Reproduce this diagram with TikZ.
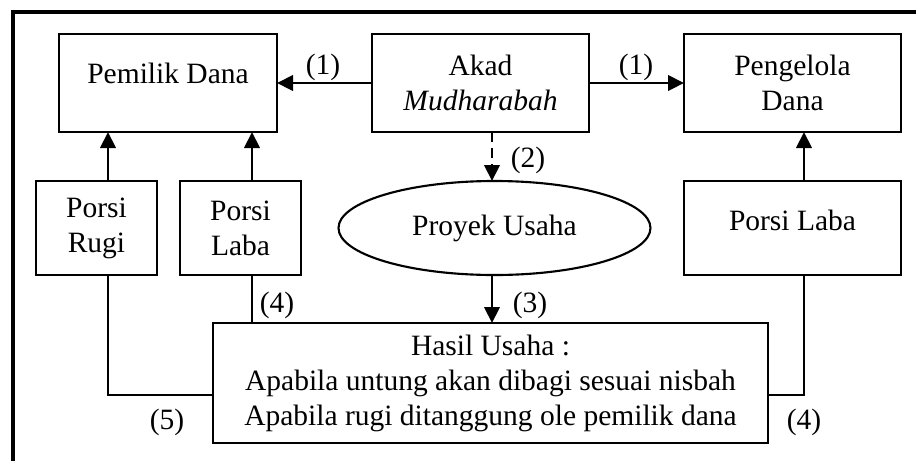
\documentclass[tikz,border=0pt]{standalone}
\usepackage{fontspec}
\setmainfont{Liberation Serif}
\usetikzlibrary{arrows.meta,calc,shapes.geometric}
\begin{document}
\begin{tikzpicture}[x=0.4pt,y=-0.4pt,
  every node/.style={font=\fontsize{11.8}{14}\selectfont},
  sz/.style 2 args={minimum width=#1*0.4pt, minimum height=#2*0.4pt},
  box/.style={draw, line width=0.85pt, inner sep=0pt, outer sep=0pt, align=center},
  lbl/.style={inner sep=0pt},
  arr/.style={line width=0.85pt, -{Triangle[length=6.4pt,width=6.2pt]}},
  thin/.style={line width=0.45pt}
]
\useasboundingbox (0,0) rectangle (916,461);
% outer frame (only top and left visible)
\coordinate (fA) at (13,470);
\coordinate (fB) at (13,11.7);
\coordinate (fC) at (925,11.7);
\draw[line width=1.6pt] (fA) -- (fB) -- (fC);

% boxes
\node[box, sz={218}{98}] (pd) at (168,83) {};
\node[lbl] (pdt) at (168,73) {Pemilik Dana};
\node[box, sz={217}{98}] (akad) at (480.5,83) {Akad\\\textit{Mudharabah}};
\node[box, sz={217}{98}] (peng) at (792.5,83) {Pengelola\\Dana};
\node[box, sz={121}{94}] (rugi) at (96.5,228) {Porsi\\Rugi};
\node[box, sz={121}{94}] (labaL) at (240.5,228) {Porsi\\Laba};
\node[box, sz={217}{94}] (labaR) at (792.5,228) {};
\node[lbl] (labaRt) at (792.5,220) {Porsi Laba};
\node[draw, ellipse, line width=0.85pt, inner sep=0pt, outer sep=0pt, sz={312}{94}] (ell) at (494.5,228) {Proyek Usaha};
\node[box, sz={555}{120}] (hasil) at (490.5,383) {Hasil Usaha :\\Apabila untung akan dibagi sesuai nisbah\\Apabila rugi ditanggung ole pemilik dana};

% arrows
\draw[arr] (akad.west) -- (pd.east);
\draw[arr] (akad.east) -- (peng.west);
\draw[arr] ([xshift=4.6pt]rugi.north) -- ([xshift=4.6pt]rugi.north |- pd.south);
\draw[arr] ([xshift=4.6pt]labaL.north) -- ([xshift=4.6pt]labaL.north |- pd.south);
\draw[arr] ([xshift=4.6pt]labaR.north) -- ([xshift=4.6pt]labaR.north |- peng.south);
\draw[arr, dash pattern=on 4pt off 2.4pt] ([xshift=4.6pt]akad.south) -- ([xshift=4.6pt]akad.south |- ell.north);
\draw[arr] ([xshift=-1pt]ell.south) -- ([xshift=-1pt]ell.south |- hasil.north);

% thin connectors
\draw[thin] ([xshift=4.6pt]labaL.south) -- ([xshift=4.6pt]labaL.south |- hasil.north);
\draw[thin] ([xshift=4.6pt]rugi.south) |- ([yshift=-4.8pt]hasil.west);
\draw[thin] ([xshift=4.6pt]labaR.south) |- ([yshift=-4.8pt]hasil.east);

% labels
\node[lbl] (l1a) at (323,67) {(1)};
\node[lbl] (l1b) at (636,67) {(1)};
\node[lbl] (l2) at (528,160) {(2)};
\node[lbl] (l3) at (530,305) {(3)};
\node[lbl] (l4a) at (277,305) {(4)};
\node[lbl] (l5) at (167,422) {(5)};
\node[lbl] (l4b) at (804,422) {(4)};
\end{tikzpicture}
\end{document}
